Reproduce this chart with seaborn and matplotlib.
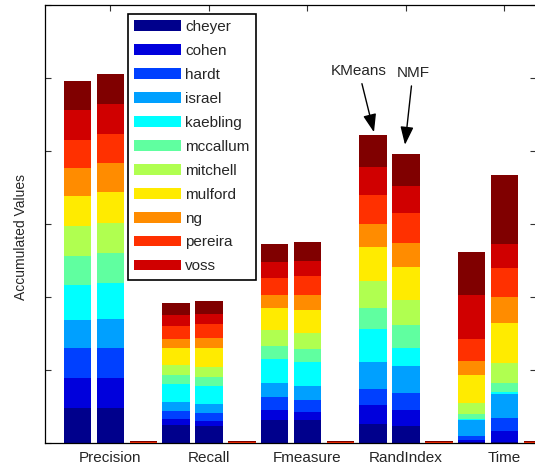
import matplotlib
matplotlib.use("Agg")
import numpy as np
import pandas as pd
import matplotlib.pyplot as plt
import seaborn as sns
from matplotlib.patches import Patch

# categories
metrics = ["Precision", "Recall", "Fmeasure", "RandIndex", "Time"]
methods = ["KMeans", "NMF", "other"]
authors = ["cheyer", "cohen", "hardt", "israel", "kaebling", "mccallum",
           "mitchell", "mulford", "ng", "pereira", "voss", "extra"]
legend_authors = authors[:11]

# per author values (bottom to top)
precision_kmeans = [0.48, 0.41, 0.41, 0.39, 0.48, 0.39, 0.41, 0.415, 0.38, 0.39, 0.40, 0.41]
precision_nmf = [0.48, 0.41, 0.41, 0.40, 0.49, 0.41, 0.41, 0.43, 0.39, 0.40, 0.41, 0.41]
recall_kmeans = [0.24, 0.082, 0.12, 0.123, 0.247, 0.12, 0.137, 0.233, 0.123, 0.173, 0.15, 0.17]
recall_nmf = [0.237, 0.068, 0.11, 0.12, 0.25, 0.12, 0.137, 0.26, 0.14, 0.19, 0.137, 0.18]
fmeasure_kmeans = [0.31, 0.137, 0.188, 0.188, 0.33, 0.17, 0.22, 0.30, 0.18, 0.237, 0.223, 0.24]
fmeasure_nmf = [0.31, 0.12, 0.164, 0.18, 0.33, 0.19, 0.215, 0.315, 0.205, 0.265, 0.20, 0.256]
randindex_kmeans = [0.26, 0.256, 0.22, 0.37, 0.45, 0.30, 0.365, 0.466, 0.31, 0.40, 0.38, 0.44]
randindex_nmf = [0.23, 0.22, 0.23, 0.37, 0.25, 0.315, 0.34, 0.46, 0.32, 0.41, 0.38, 0.44]
time_kmeans = [0.01, 0.03, 0.055, 0.22, 0.007, 0.08, 0.146, 0.38, 0.19, 0.31, 0.60, 0.585]
time_nmf = [0.01, 0.155, 0.174, 0.337, 0.027, 0.123, 0.266, 0.548, 0.364, 0.39, 0.333, 0.945]
# third (almost empty) bar in every group
other_all = [0, 0, 0, 0, 0, 0, 0, 0, 0.004, 0.006, 0.006, 0.012]

series = {
    ("Precision", "KMeans"): precision_kmeans, ("Precision", "NMF"): precision_nmf,
    ("Recall", "KMeans"): recall_kmeans, ("Recall", "NMF"): recall_nmf,
    ("Fmeasure", "KMeans"): fmeasure_kmeans, ("Fmeasure", "NMF"): fmeasure_nmf,
    ("RandIndex", "KMeans"): randindex_kmeans, ("RandIndex", "NMF"): randindex_nmf,
    ("Time", "KMeans"): time_kmeans, ("Time", "NMF"): time_nmf,
}
for m in metrics:
    series[(m, "other")] = other_all

rows = []
for (metric, method), vals in series.items():
    cum = np.cumsum(vals)
    for a, v, c in zip(authors, vals, cum):
        rows.append((metric, method, a, v, c))
df = pd.DataFrame(rows, columns=["metric", "method", "author", "value", "cum"])

sns.set_style("white")
plt.rcParams['font.family'] = ['Liberation Sans', 'DejaVu Sans']

# jet-like colours as seen in the picture
colors = ["#00008C", "#0000DC", "#0040FF", "#00A0FF", "#00FFFF", "#60FFA0",
          "#B0FF50", "#FFEB00", "#FF8C00", "#FF3000", "#D00000", "#800000"]

fig = plt.figure(figsize=(5.35, 4.7), dpi=100)
ax = fig.add_axes([45 / 535, 27 / 470, 491 / 535, 438 / 470])

# draw cumulative layers from the top segment down
for i in reversed(range(len(authors))):
    layer = df[df["author"] == authors[i]]
    sns.barplot(data=layer, x="metric", y="cum", hue="method", order=metrics,
                hue_order=methods, palette={m: colors[i] for m in methods},
                width=1.005, gap=0.165, saturation=1, errorbar=None,
                legend=False, linewidth=0, ax=ax)

ax.set_xlim(-0.665, 4.32)
ax.set_ylim(0, 6)
ax.set_yticks(range(0, 7))
ax.set_yticklabels([])
ax.set_xlabel("")
ax.set_ylabel("Accumulated Values", fontsize=10)
ax.yaxis.set_label_coords(-0.034, 0.47)
ax.set_axisbelow(True)
ax.tick_params(axis="both", direction="in", length=4, width=0.8, color="#333333",
               left=True, bottom=True, top=True, right=True, labelsize=11, pad=6)
for s in ax.spines.values():
    s.set_color("black")
    s.set_linewidth(0.9)

handles = [Patch(facecolor=colors[i], edgecolor="none") for i in range(len(legend_authors))]
leg = ax.legend(handles, legend_authors, loc="upper left",
                bbox_to_anchor=(128 / 535, 1 - 14 / 470), bbox_transform=fig.transFigure,
                fontsize=11, handlelength=3.1, handleheight=0.7, labelspacing=0.65,
                handletextpad=0.25, borderpad=0.4, borderaxespad=0, fancybox=False,
                framealpha=1)
leg.get_frame().set_edgecolor("black")
leg.get_frame().set_linewidth(1.2)

ri = metrics.index("RandIndex")
arrow = dict(arrowstyle="-|>,head_length=0.55,head_width=0.2", color="black",
             lw=1, shrinkA=2, shrinkB=0, mutation_scale=20)
ax.annotate("KMeans", xy=(ri - 0.335 + 0.01, sum(randindex_kmeans) + 0.04),
            xytext=(ri - 0.48, 5.10), ha="center", va="center", fontsize=11,
            arrowprops=arrow)
ax.annotate("NMF", xy=(ri - 0.01, sum(randindex_nmf) + 0.12),
            xytext=(ri + 0.07, 5.07), ha="center", va="center", fontsize=11,
            arrowprops=arrow)

fig.savefig("out.png", dpi=100)
